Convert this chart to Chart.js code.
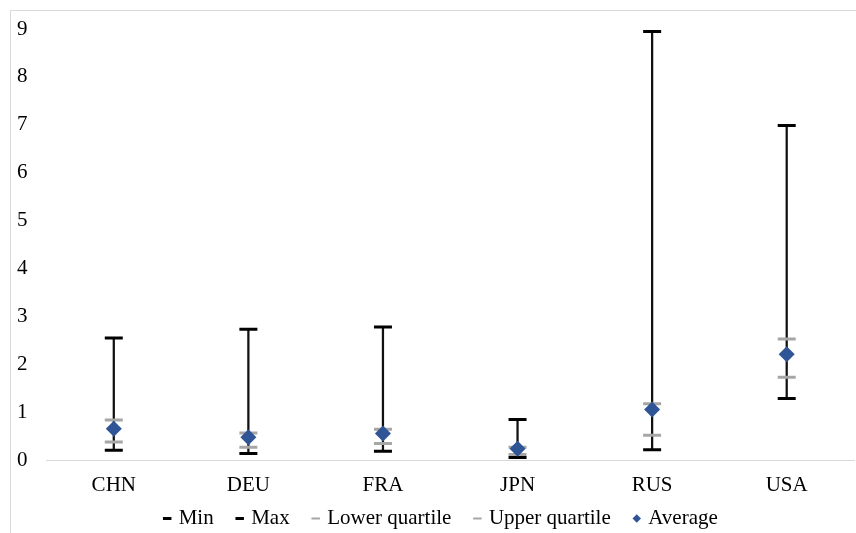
<!DOCTYPE html>
<html>
<head>
<meta charset="utf-8">
<script src="https://cdn.jsdelivr.net/npm/chart.js@4"></script>
<style>
  html, body { margin: 0; background: #fff; overflow: hidden; }
  #frame { position: absolute; left: 10px; top: 10px; width: 900px; height: 600px; border: 1px solid #d9d9d9; }
  #wrap { position: absolute; left: 0; top: 0; width: 866px; height: 533px; }
</style>
</head>
<body>
<div id="frame"></div>
<div id="wrap"><canvas id="rangeChart"></canvas></div>
<script>
const countries = ['CHN', 'DEU', 'FRA', 'JPN', 'RUS', 'USA'];
const minValues = [0.22, 0.15, 0.20, 0.07, 0.23, 1.30];
const maxValues = [2.56, 2.74, 2.79, 0.86, 8.95, 6.99];
const lowerQuartile = [0.39, 0.28, 0.36, 0.13, 0.53, 1.74];
const upperQuartile = [0.85, 0.58, 0.66, 0.28, 1.19, 2.54];
const averages = [0.67, 0.49, 0.57, 0.25, 1.07, 2.22];
const yTicks = [0, 1, 2, 3, 4, 5, 6, 7, 8, 9];

const FONT = "'Liberation Serif', 'Times New Roman', serif";

// marker dataset helper - no line, only point markers
function markers(label, data, color, width, legendWidth) {
    return {
        type: 'line',
        label: label,
        data: data,
        showLine: false,
        pointStyle: 'line',
        pointRadius: 9,
        pointHoverRadius: 9,
        borderColor: color,
        backgroundColor: color,
        pointBorderWidth: width,
        borderWidth: width,
        legendWidth: legendWidth,
        order: 1
    };
}

// pull the legend up closer to the category labels (and a bit to the right)
const legendShift = {
    id: 'legendShift',
    afterLayout(chart) {
        chart.legend.top -= 19;
        chart.legend.bottom -= 19;
        chart.legend.left += 6;
        chart.legend.right += 6;
    }
};

const ctx = document.getElementById('rangeChart').getContext('2d');

const chart = new Chart(ctx, {
    type: 'bar',
    data: {
        labels: countries,
        datasets: [
            markers('Min', minValues, '#000000', 3, 3),
            markers('Max', maxValues, '#000000', 3, 3),
            markers('Lower quartile', lowerQuartile, '#a6a6a6', 3, 2),
            markers('Upper quartile', upperQuartile, '#a6a6a6', 3, 2),
            {
                type: 'line',
                label: 'Average',
                data: averages,
                showLine: false,
                pointStyle: 'rectRot',
                pointRadius: 8,
                pointHoverRadius: 8,
                borderColor: '#2f5597',
                backgroundColor: '#2f5597',
                borderWidth: 0,
                legendWidth: 0,
                order: 0
            },
            {
                // vertical range line, min to max
                type: 'bar',
                label: 'range',
                data: countries.map((c, i) => [minValues[i], maxValues[i]]),
                backgroundColor: '#111111',
                barThickness: 1.6,
                grouped: false,
                order: 2
            }
        ]
    },
    options: {
        responsive: true,
        maintainAspectRatio: false,
        animation: false,
        layout: { padding: { left: 6, right: 0, top: 29, bottom: -25 } },
        plugins: {
            tooltip: { enabled: false },
            legend: {
                position: 'bottom',
                labels: {
                    color: '#000',
                    font: { family: FONT, size: 21 },
                    usePointStyle: true,
                    boxWidth: 2,
                    boxHeight: 6,
                    padding: 25,
                    filter: item => item.text !== 'range',
                    generateLabels: function (c) {
                        return c.data.datasets.map((ds, i) => ({
                            text: ds.label,
                            datasetIndex: i,
                            fillStyle: ds.backgroundColor,
                            strokeStyle: ds.borderColor,
                            lineWidth: ds.legendWidth || 0,
                            pointStyle: ds.pointStyle,
                            fontColor: '#000'
                        }));
                    }
                }
            }
        },
        scales: {
            x: {
                grid: { display: false },
                border: { color: '#d9d9d9', width: 1 },
                ticks: { color: '#000', font: { family: FONT, size: 21 }, padding: 4 }
            },
            y: {
                min: 0,
                max: 9,
                afterBuildTicks: axis => { axis.ticks = yTicks.map(v => ({ value: v })); },
                grid: { display: false },
                border: { display: false },
                ticks: { color: '#000', font: { family: FONT, size: 21 }, padding: 11 }
            }
        }
    },
    plugins: [legendShift]
});
</script>
</body>
</html>
